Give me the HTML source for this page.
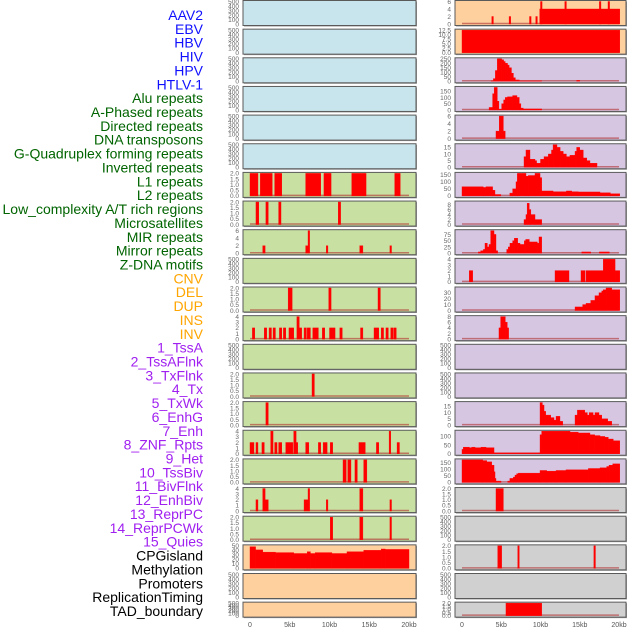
<!DOCTYPE html>
<html><head><meta charset="utf-8">
<style>
body{margin:0;background:#fff;width:630px;height:630px;overflow:hidden;font-family:"Liberation Sans",sans-serif}
svg{display:block}
</style></head>
<body>
<svg id="chart" width="630" height="630" xmlns="http://www.w3.org/2000/svg"></svg>
<script>
// ---- labels ----
const trackLabels = ["AAV2","EBV","HBV","HIV","HPV","HTLV-1","Alu repeats","A-Phased repeats","Directed repeats","DNA transposons","G-Quadruplex forming repeats","Inverted repeats","L1 repeats","L2 repeats","Low_complexity A/T rich regions","Microsatellites","MIR repeats","Mirror repeats","Z-DNA motifs","CNV","DEL","DUP","INS","INV","1_TssA","2_TssAFlnk","3_TxFlnk","4_Tx","5_TxWk","6_EnhG","7_Enh","8_ZNF_Rpts","9_Het","10_TssBiv","11_BivFlnk","12_EnhBiv","13_ReprPC","14_ReprPCWk","15_Quies","CPGisland","Methylation","Promoters","ReplicationTiming","TAD_boundary"];
const labelGroups = [6,13,5,15,5];
const groupColors = ["#1010ff","#006400","#ffa500","#a020f0","#000000"];
const xTickValues = [0,5,10,15,20];
const xTickLabels = ["0","5kb","10kb","15kb","20kb"];

// ---- left column segments [startKb, endKb, value] ----
const L0=[],L1=[],L2=[],L3=[],L4=[],L5=[];
const L6=[[0,1,2],[1.3,2.8,2],[3.1,4.0,2],[7.0,8.9,2],[9.3,10.2,2],[12.8,14.6,2],[18.2,18.9,2]];
const L7=[[0.75,1.1,2],[2.0,2.3,2],[3.6,3.9,2],[11.1,11.4,2]];
const L8=[[1.6,1.9,2],[7.0,7.3,2],[7.3,7.5,6],[9.6,9.8,2],[13.8,14.2,2],[17.6,17.8,2]];
const L9=[];
const L10=[[4.8,5.3,2],[9.9,10.2,2],[16.1,16.4,2]];
const L11=[[0.3,0.6,2],[1.8,2.1,2],[2.4,2.7,2],[2.9,3.2,2],[3.7,4.0,2],[4.2,4.5,2],[4.9,5.5,2],[5.9,6.2,4],[6.2,6.5,2],[6.8,7.1,2],[7.2,7.6,2],[7.9,8.6,2],[9.1,9.4,2],[10.0,10.7,2],[11.3,11.6,2],[13.9,14.2,2],[15.6,16.2,2],[16.5,16.8,2],[17.1,17.4,2],[17.7,18.0,2],[18.1,18.4,2]];
const L12=[];
const L13=[[7.8,8.1,2]];
const L14=[[2.0,2.3,2]];
const L15=[[0,0.5,2],[0.75,1.0,2],[1.5,1.8,2],[2.6,2.9,4],[3.1,3.4,2],[3.6,4.0,2],[4.5,5.4,2],[5.5,5.8,4],[5.8,6.0,2],[7.0,7.4,2],[8.6,8.9,2],[9.2,9.7,2],[10.1,10.4,2],[13.7,14.5,2],[15.9,16.2,2],[17.5,17.7,4],[18.5,18.8,2]];
const L16=[[11.7,12.1,2],[12.3,12.7,2],[13.2,13.5,2],[14.3,14.7,2]];
const L17=[[0.75,1.0,2],[1.6,1.9,4],[1.9,2.3,2],[6.8,7.3,2],[7.3,7.5,4],[9.6,9.8,2],[13.8,14.2,4],[17.6,17.8,2]];
const L18=[[10.1,10.4,2],[13.8,14.2,2],[17.6,17.8,2]];
const L19=[[0,0.7,48],[0.7,1.6,41],[1.6,3.2,36],[3.2,5.5,35],[5.5,7.2,33],[7.2,7.6,37],[7.6,8.2,33],[8.2,10.3,35],[10.3,12.2,33],[12.2,14.3,37],[14.3,16.5,40],[16.5,17,43],[17,20,42]];
const L20=[],L21=[];

// ---- right column ----
const R0=[[3.8,4.0,2],[6.0,6.2,2],[8.6,8.8,2],[9.4,9.6,2],[9.9,20.1,4],[10.0,10.2,6],[13.1,13.3,6],[17.5,17.7,6],[18.6,18.8,6]];
const R1=[[0,20.1,12.5]];
const R2=[[3.7,4.0,5],[4.0,4.25,30],[4.25,4.5,120],[4.5,5.05,250],[5.05,5.3,240],[5.3,5.5,220],[5.5,5.8,200],[5.8,6.0,180],[6.0,6.3,150],[6.3,6.55,90],[6.55,6.8,40],[6.8,7.3,15],[7.3,10.15,5],[14.6,15.0,10]];
const R3=[[3.45,3.9,20],[3.9,4.1,130],[4.1,4.5,180],[4.5,4.7,70],[4.7,5.05,5],[5.05,5.3,50],[5.3,5.5,80],[5.5,5.8,100],[5.8,6.45,105],[6.45,7.0,115],[7.0,7.3,100],[7.3,7.5,50],[7.5,7.8,15],[7.8,10.15,8]];
const R4=[[4.33,4.75,2],[4.75,5.27,6],[5.27,5.5,2]];
const R5=[[7.9,8.15,8],[8.15,8.66,13],[8.66,9.3,6],[9.3,9.5,5],[9.5,10.0,3],[10.0,10.45,6],[10.45,11.0,8],[11.0,11.4,10],[11.4,11.6,13],[11.6,12.1,17],[12.1,12.5,15],[12.5,12.9,12],[12.9,13.3,10],[13.3,13.75,8],[13.75,14.4,9],[14.4,14.6,12],[14.6,15.0,15],[15.0,15.45,13],[15.45,15.9,7],[15.9,16.3,5],[16.3,17.2,3]];
const R6=[[0,2.7,65],[2.7,3.05,60],[3.05,3.9,65],[3.9,4.2,40],[4.2,4.95,10],[6.1,6.45,20],[6.45,6.88,50],[6.88,7.05,100],[7.05,8.15,160],[8.15,8.45,140],[8.45,9.3,145],[9.3,9.94,160],[9.94,10.15,130],[10.15,11.6,35],[11.6,13.3,30],[13.3,13.97,35],[13.97,14.8,30],[14.8,17.58,28],[17.58,18.9,22],[18.9,20.1,15]];
const R7=[[7.9,8.15,2],[8.15,8.3,4],[8.3,8.56,8.5],[8.56,8.77,6],[8.77,9.3,4],[9.3,10.15,2]];
const R8=[[2.08,2.38,5],[2.38,2.72,10],[2.72,2.93,15],[2.93,3.23,40],[3.23,3.44,25],[3.44,3.65,35],[3.65,4.08,90],[4.08,4.33,75],[4.33,4.54,10],[5.69,5.9,15],[5.9,6.11,25],[6.11,6.45,40],[6.45,6.67,50],[6.67,7.09,60],[7.09,7.39,40],[7.39,7.94,35],[7.94,8.11,50],[8.11,8.58,55],[8.58,9.6,45],[9.6,9.81,40],[9.81,10.15,65],[15.25,16.4,5],[17.5,18.77,5]];
const R9=[[0.93,1.36,2],[11.85,13.63,2],[15.16,15.67,2],[15.8,18.0,2],[18.0,19.5,4],[19.5,20.1,2]];
const R10=[[14.4,15.37,6],[15.37,15.8,10],[15.8,16.4,12],[16.4,16.94,17],[16.94,17.45,25],[17.45,17.8,30],[17.8,18.0,33],[18.0,18.35,35],[18.35,19.07,38],[19.07,20.1,35]];
const R11=[[4.71,4.92,4],[4.92,5.52,8],[5.52,5.77,6],[5.77,5.94,4]];
const R12=[],R13=[];
const R14=[[9.94,10.24,18],[10.24,10.45,16],[10.45,10.66,11],[10.66,11.3,8],[11.3,11.72,6],[11.72,11.98,4],[11.98,12.48,7],[12.48,12.83,3],[14.4,14.7,8],[14.7,15.63,12],[15.63,15.97,10],[15.97,16.2,8],[16.2,16.7,10],[16.7,16.94,8],[16.94,17.45,10],[17.45,17.8,8],[17.8,18.56,5],[18.56,19.07,3]];
const R15=[[0,0.17,25],[0.17,0.93,38],[0.93,1.24,35],[1.24,1.66,38],[1.66,2.42,35],[2.42,3.06,38],[3.06,4.08,35],[4.08,9.94,5],[9.94,10.15,110],[10.15,13.76,130],[13.76,14.8,125],[14.8,16.3,120],[16.3,16.9,110],[16.9,17.58,105],[17.58,18.2,100],[18.2,18.64,95],[18.64,19.27,85],[19.27,20.1,75]];
const R16=[[0,2.64,170],[2.64,3.15,165],[3.15,3.78,155],[3.78,4.08,130],[4.08,4.2,80],[4.2,4.33,30],[4.33,4.97,10],[5.82,6.1,10],[6.1,6.54,30],[6.54,6.75,40],[6.75,6.96,55],[6.96,7.18,65],[7.18,9.94,70],[9.94,10.8,90],[10.8,11.98,85],[11.98,13.25,90],[13.25,16.1,95],[16.1,17.58,105],[17.58,18.43,110],[18.43,18.73,120],[18.73,19.2,130],[19.2,20.1,140]];
const R17=[[4.33,5.27,2]];
const R18=[];
const R19=[[4.55,5.05,2],[7.1,7.3,2],[16.8,17.0,2]];
const R20=[];
const R21=[[5.6,10.15,2]];

// y-axis tick sets
const T500=[0,100,200,300,400,500];
const T2=[0,0.5,1,1.5,2];
const T2s=["0.0","0.5","1.0","1.5","2.0"];

const leftPanels=[
 [L0,"#c8e4ec",500,T500],[L1,"#c8e4ec",500,T500],[L2,"#c8e4ec",500,T500],[L3,"#c8e4ec",500,T500],[L4,"#c8e4ec",500,T500],[L5,"#c8e4ec",500,T500],
 [L6,"#c8e0a2",2,T2,T2s],[L7,"#c8e0a2",2,T2,T2s],[L8,"#c8e0a2",6,[0,2,4,6]],[L9,"#c8e0a2",500,T500],[L10,"#c8e0a2",2,T2,T2s],[L11,"#c8e0a2",4,[0,1,2,3,4]],
 [L12,"#c8e0a2",500,T500],[L13,"#c8e0a2",2,T2,T2s],[L14,"#c8e0a2",2,T2,T2s],[L15,"#c8e0a2",4,[0,1,2,3,4]],[L16,"#c8e0a2",2,T2,T2s],[L17,"#c8e0a2",4,[0,1,2,3,4]],[L18,"#c8e0a2",2,T2,T2s],
 [L19,"#fdd09e",50,[0,10,20,30,40,50]],[L20,"#fdd09e",500,T500],[L21,"#fdd09e",500,T500]
];
const rightPanels=[
 [R0,"#fdd09e",6,[0,2,4,6]],[R1,"#fdd09e",12.5,[0,2.5,5,7.5,10,12.5],["0.0","2.5","5.0","7.5","10.0","12.5"]],
 [R2,"#d6c6e2",250,[0,50,100,150,200,250]],[R3,"#d6c6e2",180,[0,50,100,150]],[R4,"#d6c6e2",6,[0,2,4,6]],[R5,"#d6c6e2",17,[0,5,10,15]],
 [R6,"#d6c6e2",160,[0,50,100,150]],[R7,"#d6c6e2",9,[0,2,4,6,8]],[R8,"#d6c6e2",90,[0,25,50,75]],[R9,"#d6c6e2",4,[0,1,2,3,4]],
 [R10,"#d6c6e2",38,[0,10,20,30]],[R11,"#d6c6e2",8,[0,2,4,6,8]],[R12,"#d6c6e2",500,T500],[R13,"#d6c6e2",500,T500],
 [R14,"#d6c6e2",18,[0,5,10,15]],[R15,"#d6c6e2",130,[0,50,100]],[R16,"#d6c6e2",170,[0,50,100,150]],
 [R17,"#d0d0d0",2,T2,T2s],[R18,"#d0d0d0",500,T500],[R19,"#d0d0d0",2,T2,T2s],[R20,"#d0d0d0",500,T500],[R21,"#d0d0d0",2,T2,T2s]
];

const NS="http://www.w3.org/2000/svg";
const svg=document.getElementById('chart');
function mk(tag,attrs,parent){const e=document.createElementNS(NS,tag);for(const k in attrs)e.setAttribute(k,attrs[k]);(parent||svg).appendChild(e);return e;}

// labels
let li=0;
labelGroups.forEach((n,g)=>{for(let j=0;j<n;j++){const y=15+li*13.86;
 const t=mk('text',{x:203,y:y+5,'text-anchor':'end','font-size':14,fill:groupColors[g],'font-family':'"Liberation Sans",sans-serif'});
 t.textContent=trackLabels[li];
 
 
 li++;}});

function drawColumn(panels,px0,pw,zeroX,pxPerKb,tickX,side){
 const xs=kb=>zeroX+kb*pxPerKb;
 panels.forEach((p,i)=>{
  const [segs,bg,ymax,ticks,tickStr]=p;
  const top=i*28.65+0.5, h=(i===21)?15:25;
  const g=mk('g',{});
  
  
  mk('rect',{x:px0+1,y:top+1,width:pw,height:h,fill:'#999'},g);
  mk('rect',{x:px0,y:top,width:pw,height:h,fill:bg,stroke:'#5a5a5a','stroke-width':1},g);
  const y0=top+h-1.5, y1=top+1;
  const ys=v=>y0-(v/ymax)*(y0-y1);
  if(segs.length){
   const bl=mk('line',{x1:xs(0),x2:xs(20),y1:y0-0.5,y2:y0-0.5,stroke:'#b03030','stroke-width':1.5,'stroke-opacity':0.6},g);
   
   
  }
  segs.forEach(s=>{
   const r=mk('rect',{x:xs(s[0]),y:ys(s[2]),width:Math.max(1,xs(s[1])-xs(s[0])),height:y0-ys(s[2]),fill:'#ff0000',stroke:'#ff0000','stroke-width':0.4},g);
   
   
  });
  ticks.forEach((v,k)=>{
   const t=mk('text',{x:tickX,y:ys(v)+2.3,'text-anchor':'end','font-size':6.5,fill:'#666'},g);
   t.textContent=tickStr?tickStr[k]:String(v);
   
   
  });
 });
 xTickValues.forEach((v,k)=>{
  const t=mk('text',{x:xs(v),y:627,'text-anchor':'middle','font-size':7,fill:'#555'});
  t.textContent=xTickLabels[k];
  
  
 });
}
drawColumn(leftPanels,243,173,250,7.95,239,'left');
drawColumn(rightPanels,455,171,462,7.85,451,'right');
</script>
</body></html>
